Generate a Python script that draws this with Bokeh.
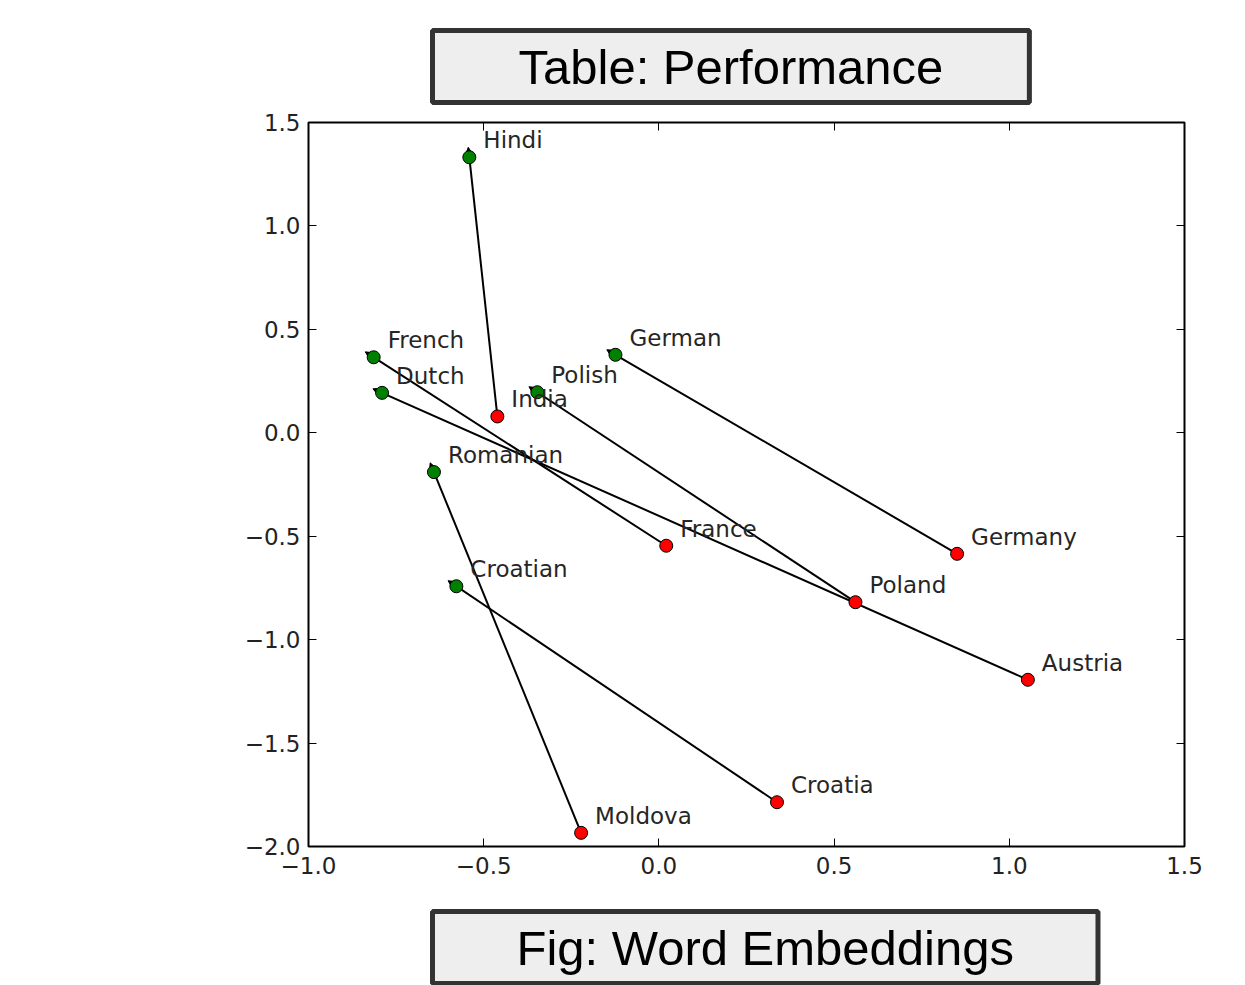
import math
from bokeh.plotting import figure
from bokeh.models import (ColumnDataSource, Arrow, NormalHead, Title, LinearAxis,
                          FixedTicker, Range1d)
from bokeh.embed import file_html
from bokeh.resources import INLINE
from bokeh.core.properties import value

# ---------------- data ----------------
green_words = ["Hindi", "French", "Dutch", "German", "Polish", "Romanian", "Croatian"]
green_x = [-0.541, -0.814, -0.790, -0.124, -0.347, -0.642, -0.578]
green_y = [1.332, 0.365, 0.193, 0.377, 0.196, -0.190, -0.742]

red_words = ["India", "France", "Austria", "Germany", "Poland", "Moldova", "Croatia"]
red_x = [-0.461, 0.021, 1.053, 0.851, 0.561, -0.222, 0.337]
red_y = [0.079, -0.546, -1.194, -0.585, -0.819, -1.934, -1.786]

x_ticks = [-1.0, -0.5, 0.0, 0.5, 1.0, 1.5]
x_tick_labels = ["\u22121.0", "\u22120.5", "0.0", "0.5", "1.0", "1.5"]
y_ticks = [-2.0, -1.5, -1.0, -0.5, 0.0, 0.5, 1.0, 1.5]
y_tick_labels = ["\u22122.0", "\u22121.5", "\u22121.0", "\u22120.5", "0.0", "0.5", "1.0", "1.5"]

title_text = "Table: Performance"
caption_text = "Fig: Word Embeddings"

# ---------------- layout ----------------
W, H = 1245, 985
BL, BR, BT, BB = 308, 61, 122, 139
X0, X1, Y0, Y1 = -1.0, 1.5, -2.0, 1.5
FW = W - BL - BR
FH = H - BT - BB
sx = FW / (X1 - X0)
sy = FH / (Y1 - Y0)

p = figure(width=W, height=H, x_range=Range1d(X0, X1), y_range=Range1d(Y0, Y1),
           output_backend="svg", toolbar_location=None,
           min_border_left=BL, min_border_right=BR, min_border_top=BT, min_border_bottom=BB)
p.background_fill_color = "white"
p.border_fill_color = "white"
p.grid.grid_line_color = None
p.outline_line_color = "black"
p.outline_line_width = 2
p.outline_line_alpha = 1.0

def style_axis(ax, ticks, labels, show):
    ax.ticker = FixedTicker(ticks=ticks)
    ax.major_label_overrides = {t: (l if show else "") for t, l in zip(ticks, labels)}
    ax.major_tick_in = 8
    ax.major_tick_out = 0
    ax.minor_tick_in = 0
    ax.minor_tick_out = 0
    ax.axis_line_color = None
    ax.major_tick_line_color = "black"
    ax.major_tick_line_width = 1
    ax.major_label_text_font = "DejaVu Sans"
    ax.major_label_text_font_size = "23px"
    ax.major_label_text_color = "#222222"
    ax.major_label_standoff = 6

style_axis(p.xaxis[0], x_ticks, x_tick_labels, True)
style_axis(p.yaxis[0], y_ticks, y_tick_labels, True)
p.yaxis[0].major_label_standoff = 8
p.xaxis[0].major_label_standoff = 10

top_ax = LinearAxis()
style_axis(top_ax, x_ticks, x_tick_labels, False)
top_ax.major_label_standoff = 0
p.add_layout(top_ax, "above")
right_ax = LinearAxis()
style_axis(right_ax, y_ticks, y_tick_labels, False)
p.add_layout(right_ax, "right")

# invisible spacer axis between the x axis and the caption
spacer = LinearAxis()
style_axis(spacer, x_ticks, x_tick_labels, False)
spacer.major_tick_in = 0
spacer.major_tick_out = 33
spacer.major_tick_line_color = None
spacer.major_label_standoff = 0
p.add_layout(spacer, "below")

# arrows from red to green with a small head just past the green point
ext = 10.0
tip_x, tip_y = [], []
for gx, gy, rx, ry in zip(green_x, green_y, red_x, red_y):
    dxp = (gx - rx) * sx
    dyp = (gy - ry) * sy
    L = math.hypot(dxp, dyp)
    tip_x.append(gx + dxp / L * ext / sx)
    tip_y.append(gy + dyp / L * ext / sy)

asrc = ColumnDataSource(dict(x_start=red_x, y_start=red_y, x_end=tip_x, y_end=tip_y))
arrow = Arrow(end=NormalHead(size=6, fill_color="black", line_color="black", line_width=1),
              x_start="x_start", y_start="y_start", x_end="x_end", y_end="y_end",
              source=asrc, line_color="black", line_width=2, level="underlay")
p.add_layout(arrow)

p.scatter(green_x, green_y, size=13, fill_color="#008000", line_color="black", line_width=1)
p.scatter(red_x, red_y, size=13, fill_color="#ff0000", line_color="black", line_width=1)

p.text(x=green_x + red_x, y=green_y + red_y, text=green_words + red_words,
       x_offset=14, y_offset=-17, text_font=value("DejaVu Sans"), text_font_size="23px",
       text_color="#262626", text_baseline="alphabetic", text_align="left")

# boxed title (above) and caption (below)
for txt, side, pad, stand in [(title_text, "above", (86, 9), 40),
                              (caption_text, "below", (84, 9), 0)]:
    t = Title(text=txt, align="left", offset=124, standoff=stand,
              text_font="Liberation Sans", text_font_size="49px", text_font_style="normal",
              text_color="black", background_fill_color="#eeeeee",
              border_line_color="#333333", border_line_width=5, padding=pad)
    p.add_layout(t, side)

open("out.html", "w").write(file_html(p, INLINE))
